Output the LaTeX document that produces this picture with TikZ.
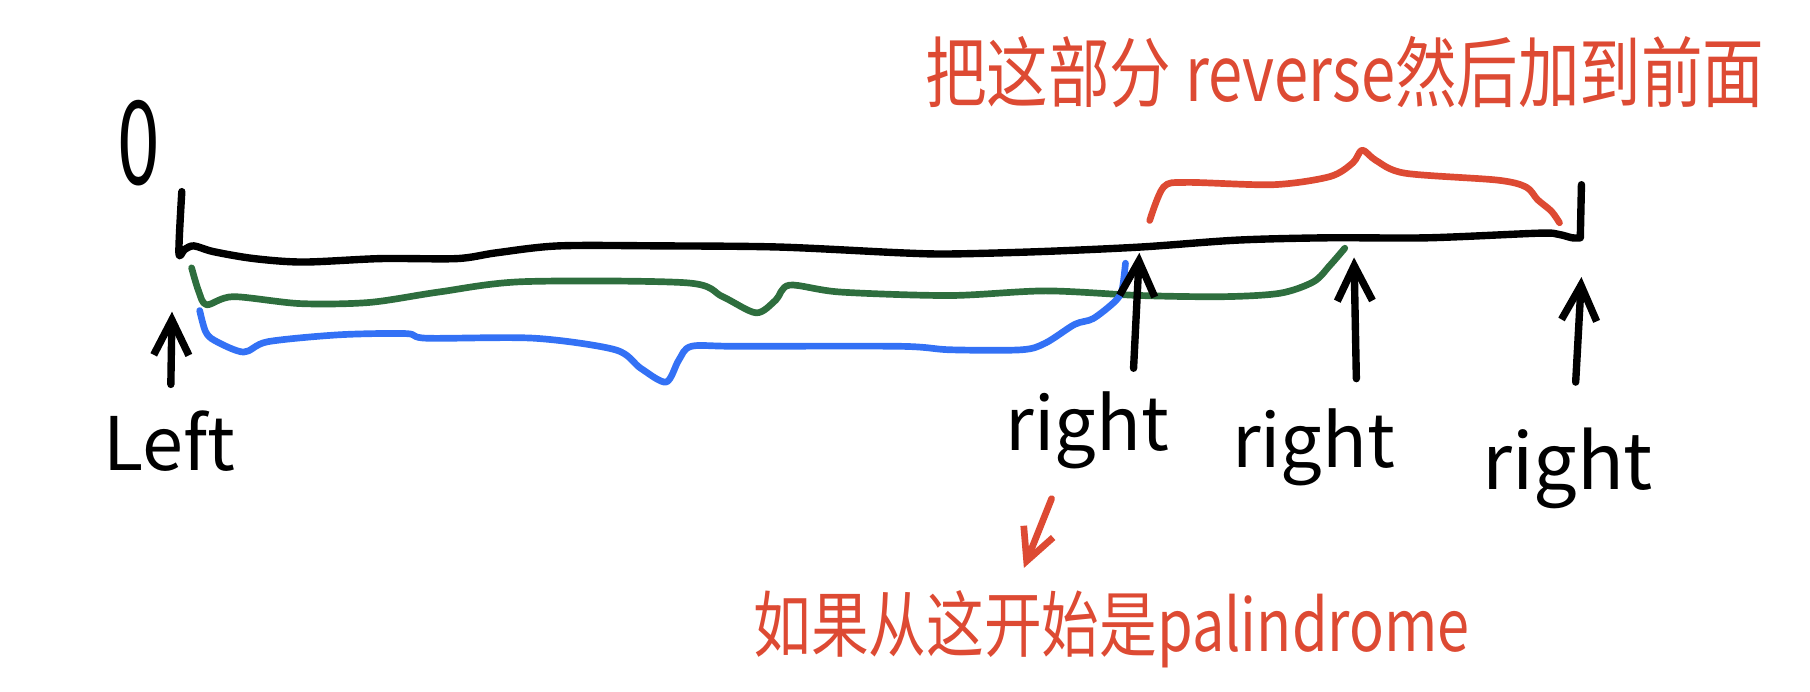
\documentclass[tikz,border=0pt]{standalone}
\usepackage{fontspec}
\setmainfont{Noto Sans CJK SC}
\usetikzlibrary{arrows.meta}
\definecolor{hred}{HTML}{DD4A33}
\definecolor{hgreen}{HTML}{2E6E3E}
\definecolor{hblue}{HTML}{3371F5}
\begin{document}
\begin{tikzpicture}[x=0.011543cm,y=-0.011543cm,
  ink/.style={line width=2.1pt, line cap=round, line join=round},
  inkc/.style={line width=1.9pt, line cap=round, line join=round},
  uparr/.style={ink, -{Straight Barb[length=10pt,width=10pt]}},
  redarr/.style={ink, hred, line width=1.9pt, -{Straight Barb[length=9pt,width=9pt]}},
  lab/.style={font=\fontsize{21}{21}\selectfont, inner sep=0pt, anchor=base},
  note/.style={text=hred, inner sep=0pt, yscale=1.25}]
\useasboundingbox (0,0) rectangle (1568,599.4);
% zero label
\node[inner sep=0pt, font=\fontsize{33}{33}\selectfont, xscale=0.66] (zero) at (120,124) {0};
% main black segment
\draw[ink] plot[smooth, tension=0.5] coordinates {(157.5,166) (155,219) (160,216) (168,213) (185,218) (220,224) (263,227) (330,224) (396,224) (430,219) (484,213) (573,213) (675,214) (780,219) (823,220) (900,218) (988,214) (1072,208) (1150,206) (1237,206) (1333,202) (1350,203) (1362,206) (1369,206)} -- (1370,160);
% red brace
\draw[inkc, hred] plot[smooth, tension=0.5] coordinates {(996,191) (1008,162) (1028,158) (1103,160) (1152,153) (1172,141) (1180,130) (1192,139) (1217,150) (1297,156) (1322,162) (1332,173) (1344,183) (1351,193)};
% green curve
\draw[inkc, hgreen] plot[smooth, tension=0.5] coordinates {(166,232) (172,252) (179,264) (202,257) (260,263) (320,262) (380,253) (453,244) (595,245) (626,257) (655,271) (672,260) (684,247) (728,253) (823,256) (906,252) (988,256) (1060,257) (1109,254) (1138,244) (1152,230) (1165,215)};
% blue curve
\draw[inkc, hblue] plot[smooth, tension=0.5] coordinates {(173,269) (178,287) (186,295) (211,305) (232,296) (294,290) (352,289) (370,293) (463,293) (533,303) (555,319) (577,331) (588,312) (599,300) (639,300) (780,300) (823,303) (885,303) (906,297) (931,281) (947,276) (966,261) (972,251) (975,228)};
% arrows
\coordinate (a0s) at (148,333); \coordinate (a0t) at (149,270);
\coordinate (a1s) at (982,319); \coordinate (a1t) at (987,219);
\coordinate (a2s) at (1175,328); \coordinate (a2t) at (1173,223);
\coordinate (a3s) at (1365,331); \coordinate (a3t) at (1370,240);
\draw[uparr] (a0s) -- (a0t);
\draw[uparr] (a1s) -- (a1t);
\draw[uparr] (a2s) -- (a2t);
\draw[uparr] (a3s) -- (a3t);
% labels
\node[lab] (left) at (147,408) {Left};
\node[lab] (r1) at (942,390) {right};
\node[lab] (r2) at (1138,405) {right};
\node[lab, font=\fontsize{22}{22}\selectfont] (r3) at (1358,424) {right};
% notes
\node[note, font=\fontsize{17.5}{20}\selectfont] (top) at (1165,62) {把这部分 reverse然后加到前面};
\node[note, font=\fontsize{16.4}{20}\selectfont] (bottom) at (963,545) {如果从这开始是palindrome};
\coordinate (ra0) at (911,432); \coordinate (ra1) at (887,492);
\draw[redarr] (ra0) -- (ra1);
\end{tikzpicture}
\end{document}
